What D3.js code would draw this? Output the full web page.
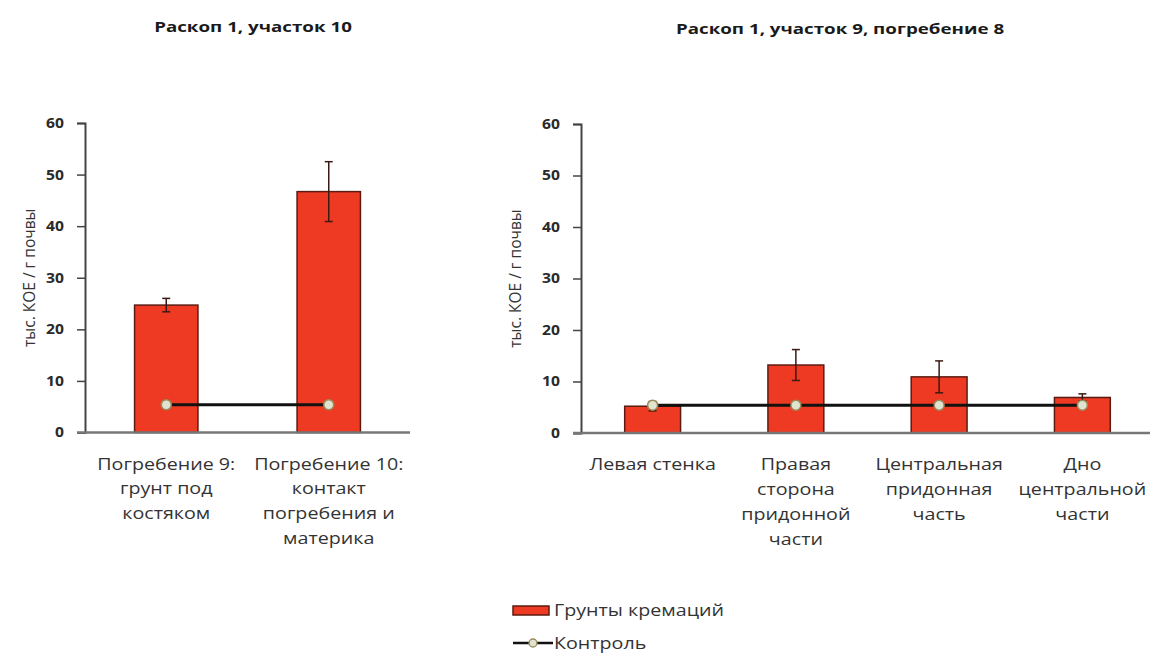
<!DOCTYPE html>
<html>
<head>
<meta charset="utf-8">
<script src="https://cdn.jsdelivr.net/npm/d3@7"></script>
<style>
  body { margin: 0; background: #fff; }
  text { font-family: "Open Sans", "DejaVu Sans", sans-serif; }
</style>
</head>
<body>
<svg id="chart" width="1150" height="654"></svg>
<script>
// values
const yTicks = [0, 10, 20, 30, 40, 50, 60]

const leftTitle = 'Раскоп 1, участок 10'
const leftCategories = ['Погребение 9:\nгрунт под\nкостяком', 'Погребение 10:\nконтакт\nпогребения и\nматерика']
const leftValues = [24.7, 46.7]
const leftErrors = [1.3, 5.8]
const leftControl = [5.4, 5.4]

const rightTitle = 'Раскоп 1, участок 9, погребение 8'
const rightCategories = ['Левая стенка', 'Правая\nсторона\nпридонной\nчасти', 'Центральная\nпридонная\nчасть', 'Дно\nцентральной\nчасти']
const rightValues = [5.2, 13.2, 10.9, 6.9]
const rightErrors = [0.9, 3.0, 3.1, 0.7]
const rightControl = [5.4, 5.4, 5.4, 5.4]

const yLabel = 'тыс. КОЕ / г почвы'
const legendLabels = ['Грунты кремаций', 'Контроль']

const barColor = '#ee3a22'
const barStroke = '#5a1c12'
const markerFill = '#dfe3cf'
const markerStroke = '#9a8a5a'
// the source picture is a bit wider than tall, text looks stretched
const stretch = 1.27

const svg = d3.select('#chart')

// text placed at (x, y) and widened around that point
const wideText = (parent, x, y, s = stretch) => parent.append('text')
    .attr('transform', `translate(${x},${y}) scale(${s},1)`)

const drawPanel = (opts) => {
  const { left, right, top, bottom, title, titleX, titleY, categories, values, errors, control, yLabelX } = opts
  const g = svg.append('g')

  const x = d3.scaleBand().domain(categories).range([left, right]).paddingInner(0.61).paddingOuter(0.305)
  const y = d3.scaleLinear().domain([0, 60]).range([bottom, top])

  wideText(g, titleX, titleY, 1.25)
      .attr('text-anchor', 'middle')
      .attr('font-size', 15).attr('font-weight', 'bold').attr('fill', '#1a1a1a')
      .text(title)

  // y axis
  const yAxis = g.append('g')
      .attr('transform', `translate(${left},0)`)
      .call(d3.axisLeft(y).tickValues(yTicks).tickSize(8))
  yAxis.select('.domain').attr('stroke', '#444').attr('stroke-width', 2)
  yAxis.selectAll('.tick line').attr('stroke', '#444').attr('stroke-width', 1.5)
  yAxis.selectAll('.tick text')
      .attr('x', 0)
      .attr('transform', 'translate(-21,0) scale(1.12,1)')
      .attr('font-size', 14).attr('font-weight', 'bold').attr('fill', '#2a2a2a')
      .style('font-family', '"Open Sans", sans-serif')

  g.append('text')
      .attr('transform', `translate(${yLabelX},${(top + bottom) / 2}) rotate(-90)`)
      .attr('text-anchor', 'middle')
      .attr('font-size', 15.5).attr('fill', '#333')
      .text(yLabel)

  // bars
  g.selectAll('rect.bar')
    .data(values)
    .join('rect')
      .attr('class', 'bar')
      .attr('x', (d, i) => x(categories[i]))
      .attr('y', d => y(d))
      .attr('width', x.bandwidth())
      .attr('height', d => y(0) - y(d))
      .attr('fill', barColor)
      .attr('stroke', barStroke)
      .attr('stroke-width', 1.5)

  // x axis line
  g.append('line')
      .attr('x1', left - 8).attr('x2', right)
      .attr('y1', y(0)).attr('y2', y(0))
      .attr('stroke', '#777').attr('stroke-width', 2.5)

  // error bars
  const cx = i => x(categories[i]) + x.bandwidth() / 2
  const err = g.selectAll('g.err').data(values).join('g').attr('class', 'err')
  err.append('line')
      .attr('x1', (d, i) => cx(i)).attr('x2', (d, i) => cx(i))
      .attr('y1', (d, i) => y(d + errors[i])).attr('y2', (d, i) => y(d - errors[i]))
      .attr('stroke', '#3a1a14').attr('stroke-width', 1.5)
  ;[1, -1].forEach(s => {
    err.append('line')
        .attr('x1', (d, i) => cx(i) - 4).attr('x2', (d, i) => cx(i) + 4)
        .attr('y1', (d, i) => y(d + s * errors[i])).attr('y2', (d, i) => y(d + s * errors[i]))
        .attr('stroke', '#3a1a14').attr('stroke-width', 1.5)
  })

  // control line
  const line = d3.line().x((d, i) => cx(i)).y(d => y(d))
  g.append('path')
      .datum(control)
      .attr('d', line)
      .attr('fill', 'none')
      .attr('stroke', '#111')
      .attr('stroke-width', 3)
  g.selectAll('circle.ctrl')
    .data(control)
    .join('circle')
      .attr('class', 'ctrl')
      .attr('cx', (d, i) => cx(i)).attr('cy', d => y(d))
      .attr('r', 5)
      .attr('fill', markerFill)
      .attr('stroke', markerStroke)
      .attr('stroke-width', 1.5)

  // category labels
  categories.forEach(c => {
    const t = wideText(g, x(c) + x.bandwidth() / 2, bottom + 37)
        .attr('text-anchor', 'middle')
        .attr('font-size', 15.5).attr('fill', '#333')
    t.selectAll('tspan')
      .data(c.split('\n'))
      .join('tspan')
        .attr('x', 0)
        .attr('dy', (d, i) => i === 0 ? 0 : 25)
        .text(d => d)
  })
}

drawPanel({
  left: 85, right: 410, top: 123, bottom: 432.5,
  title: leftTitle, titleX: 253, titleY: 32,
  categories: leftCategories, values: leftValues, errors: leftErrors, control: leftControl,
  yLabelX: 35
})

drawPanel({
  left: 581, right: 1154, top: 124, bottom: 433,
  title: rightTitle, titleX: 840, titleY: 34,
  categories: rightCategories, values: rightValues, errors: rightErrors, control: rightControl,
  yLabelX: 521
})

// legend
const legend = svg.append('g').attr('transform', 'translate(513,0)')
legend.append('rect')
    .attr('x', 0).attr('y', 606).attr('width', 36).attr('height', 9)
    .attr('fill', barColor).attr('stroke', barStroke).attr('stroke-width', 1.5)
wideText(legend, 41, 616)
    .attr('font-size', 15.5).attr('fill', '#333')
    .text(legendLabels[0])
legend.append('line')
    .attr('x1', 0).attr('x2', 40).attr('y1', 643).attr('y2', 643)
    .attr('stroke', '#111').attr('stroke-width', 2.5)
legend.append('circle')
    .attr('cx', 20).attr('cy', 643).attr('r', 4)
    .attr('fill', markerFill).attr('stroke', markerStroke).attr('stroke-width', 1.3)
wideText(legend, 41, 649)
    .attr('font-size', 15.5).attr('fill', '#333')
    .text(legendLabels[1])
</script>
</body>
</html>
